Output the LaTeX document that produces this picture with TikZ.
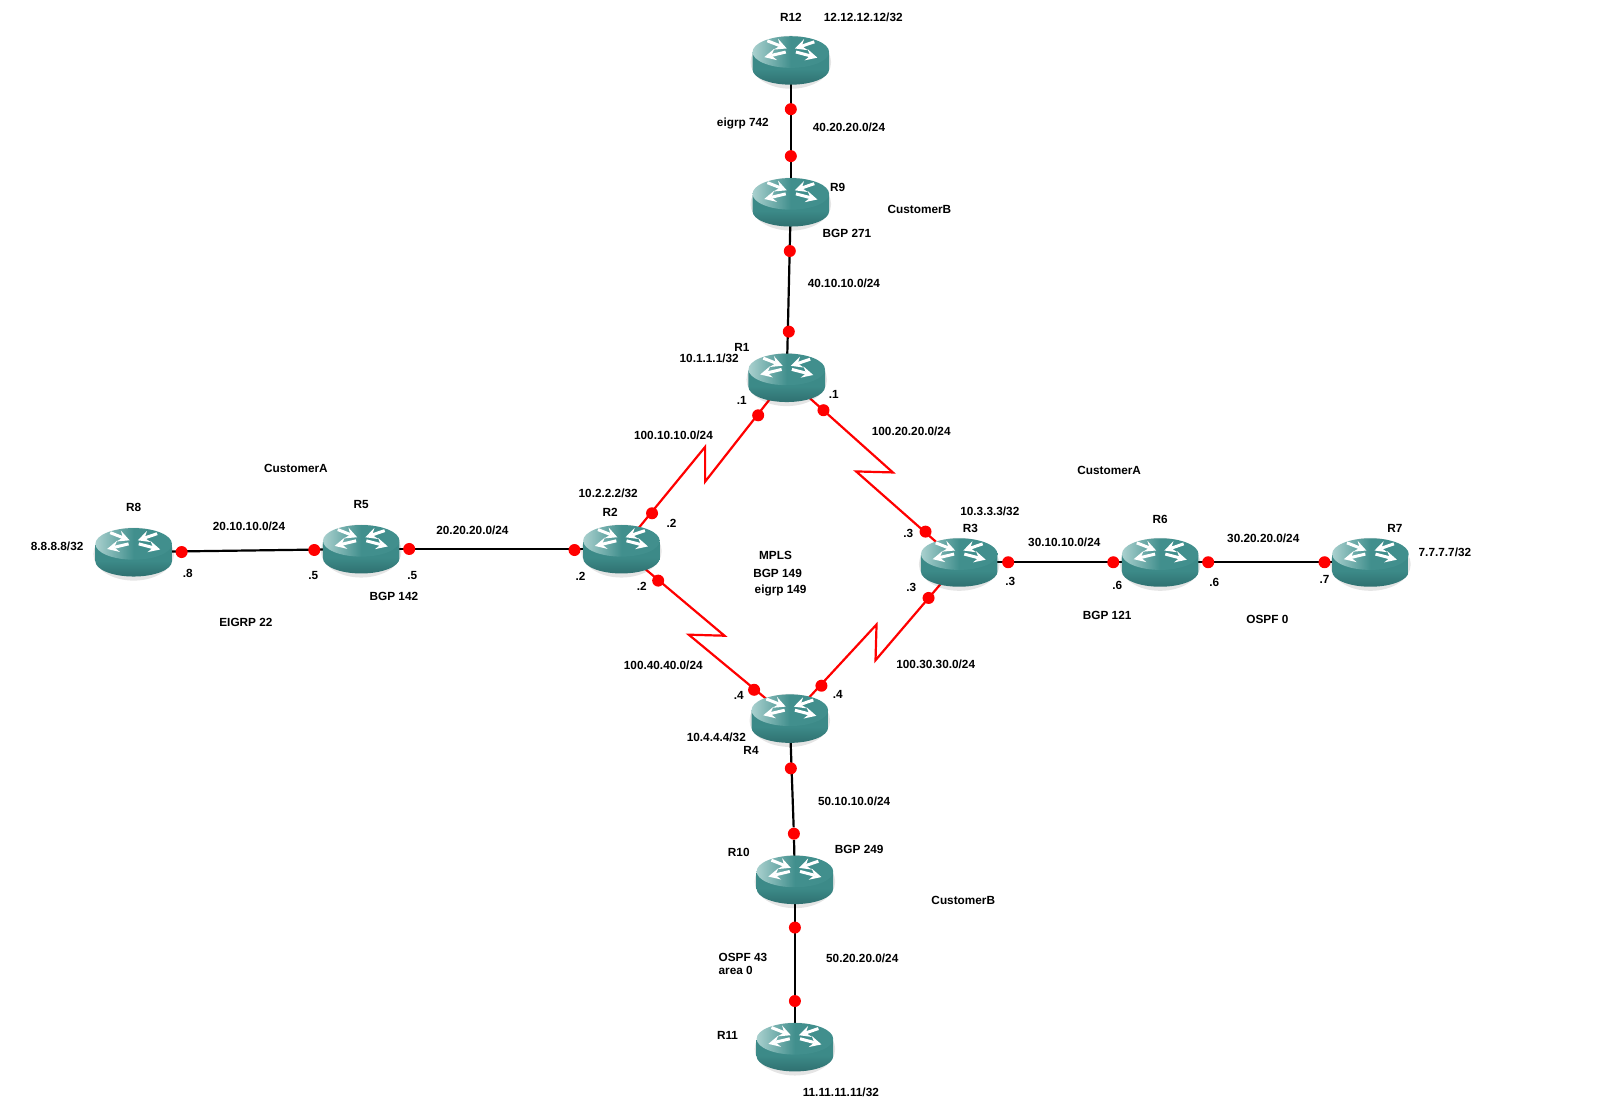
\documentclass[tikz,border=0pt]{standalone}
\usepackage{fontspec}
\setmainfont{Liberation Sans}
\usetikzlibrary{backgrounds}
\definecolor{routertop}{HTML}{418F8D}
\definecolor{routerlight}{HTML}{A9D0CE}
\definecolor{routerside}{HTML}{3C8A88}
\definecolor{routerdark}{HTML}{2F7070}

\begin{document}
\begin{tikzpicture}[x=0.5102pt,y=-0.5102pt]

\tikzstyle{router}=[rectangle,minimum width=39pt,minimum height=25pt,inner sep=0pt]
\tikzstyle{dot}=[circle,fill=red,minimum size=6pt,inner sep=0pt]
\tikzstyle{lbl}=[font=\fontsize{5.9}{7}\selectfont\bfseries,inner sep=0pt,yshift=-0.3pt]
\tikzstyle{link}=[black,line width=1.1pt]
\tikzstyle{serial}=[red,line width=1.1pt]
\tikzstyle{cross}=[white,line width=1.5pt,-stealth]

\useasboundingbox (0,0) rectangle (1568,1084);

% routers
\foreach \name/\x/\y in {r12/775/59,r9/775/198,r1/771/370,r2/609/538,r3/940/551,r4/774/704,
  r5/354/538,r6/1137/551,r7/1343/551,r8/131/541,r10/779/862,r11/779/1026}
{
  \begin{scope}[shift={(\x,\y)}]
    \fill[black,opacity=0.10] (0,2) ellipse [x radius=39.5,y radius=26];
    \path[top color=routerside,bottom color=routerdark,middle color=routerside] (-37.5,-7) -- (-37.5,9) arc[start angle=180,end angle=0,x radius=37.5,y radius=15] -- (37.5,-7) -- cycle;
    \path[left color=routerlight,right color=routertop,middle color=routertop] (0,-8) ellipse [x radius=37.5,y radius=15.5];
    \draw[cross] (-23,-19) -- (-4,-11.5);
    \draw[cross] (23,-18) -- (4,-11.5);
    \draw[cross] (-5,-8) -- (-26,-3);
    \draw[cross] (5,-8) -- (26,-2.5);
  \end{scope}
  \node[router] (\name) at (\x,\y) {};
}

% dots on the links
\foreach \name/\x/\y in {d1/775/107,d2/775/153,d3/774/246,d4/773/325,d5/743/407,d6/639/503,
  d7/807/402,d8/907/521,d9/645/569,d10/739/676,d11/910/586,d12/805/672,d13/178/541,d14/308/539,
  d15/401/538,d16/563/539,d17/988/551,d18/1091/551,d19/1184/551,d20/1298/551,d21/775/753,
  d22/778/817,d23/779/909,d24/779/981}
  \node[dot] (\name) at (\x,\y) {};

\coordinate (z1) at (691,472);
\coordinate (z2) at (691,438);
\coordinate (z3) at (875,463);
\coordinate (z4) at (839,462);
\coordinate (z5) at (710,623);
\coordinate (z6) at (675,622);
\coordinate (z7) at (858,647);
\coordinate (z8) at (859,612);

\begin{scope}[on background layer]
\draw[link] (r12.center) -- (r9.center);
\draw[link] (r9.center) -- (r1.center);
\draw[link] (r8.center) -- (r5.center);
\draw[link] (r5.center) -- (r2.center);
\draw[link] (r3.center) -- (r6.center);
\draw[link] (r6.center) -- (r7.center);
\draw[link] (r4.center) -- (d22) -- (r10.center);
\draw[link] (r10.center) -- (r11.center);
\draw[serial] (r1.center) -- (z1) -- (z2) -- (r2.center);
\draw[serial] (r1.center) -- (z3) -- (z4) -- (r3.center);
\draw[serial] (r2.center) -- (z5) -- (z6) -- (r4.center);
\draw[serial] (r3.center) -- (z7) -- (z8) -- (r4.center);
\end{scope}

% top branch
\node[lbl] (nr12) at (775,16) {R12};
\node[lbl] (ip12) at (846,16) {12.12.12.12/32};
\node[lbl] (eigrp742) at (728,120) {eigrp 742};
\node[lbl] (net4020) at (832,124) {40.20.20.0/24};
\node[lbl] (nr9) at (821,183) {R9};
\node[lbl] (custb1) at (901,205) {CustomerB};
\node[lbl] (bgp271) at (830,228) {BGP 271};
\node[lbl] (net4010) at (827,277) {40.10.10.0/24};

% core
\node[lbl] (nr1) at (727,340) {R1};
\node[lbl] (ip1) at (695,351) {10.1.1.1/32};
\node[lbl] (h1a) at (727,392) {.1};
\node[lbl] (h1b) at (817,386) {.1};
\node[lbl] (net10010) at (660,426) {100.10.10.0/24};
\node[lbl] (net10020) at (893,422) {100.20.20.0/24};
\node[lbl] (ip2) at (596,483) {10.2.2.2/32};
\node[lbl] (nr2) at (598,502) {R2};
\node[lbl] (h2a) at (658,512) {.2};
\node[lbl] (h2b) at (569,564) {.2};
\node[lbl] (h2c) at (629,574) {.2};
\node[lbl] (mpls) at (760,544) {MPLS};
\node[lbl] (bgp149) at (762,561) {BGP 149};
\node[lbl] (eigrp149) at (765,578) {eigrp 149};
\node[lbl] (ip3) at (970,501) {10.3.3.3/32};
\node[lbl] (nr3) at (951,517) {R3};
\node[lbl] (h3a) at (890,522) {.3};
\node[lbl] (h3b) at (990,569) {.3};
\node[lbl] (h3c) at (893,575) {.3};
\node[lbl] (net10040) at (650,651) {100.40.40.0/24};
\node[lbl] (net10030) at (917,650) {100.30.30.0/24};
\node[lbl] (h4a) at (724,681) {.4};
\node[lbl] (h4b) at (821,680) {.4};
\node[lbl] (ip4) at (702,722) {10.4.4.4/32};
\node[lbl] (nr4) at (736,735) {R4};

% left branch
\node[lbl] (custa1) at (290,458) {CustomerA};
\node[lbl] (nr8) at (131,497) {R8};
\node[lbl] (nr5) at (354,494) {R5};
\node[lbl] (net2010) at (244,515) {20.10.10.0/24};
\node[lbl] (net2020) at (463,519) {20.20.20.0/24};
\node[lbl] (ip8) at (56,535) {8.8.8.8/32};
\node[lbl] (h8) at (184,561) {.8};
\node[lbl] (h5a) at (307,563) {.5};
\node[lbl] (h5b) at (404,563) {.5};
\node[lbl] (bgp142) at (386,584) {BGP 142};
\node[lbl] (eigrp22) at (241,609) {EIGRP 22};

% right branch
\node[lbl] (custa2) at (1087,460) {CustomerA};
\node[lbl] (nr6) at (1137,508) {R6};
\node[lbl] (nr7) at (1367,517) {R7};
\node[lbl] (net3010) at (1043,531) {30.10.10.0/24};
\node[lbl] (net3020) at (1238,527) {30.20.20.0/24};
\node[lbl] (ip7) at (1416,541) {7.7.7.7/32};
\node[lbl] (h6a) at (1095,573) {.6};
\node[lbl] (h6b) at (1190,570) {.6};
\node[lbl] (h7) at (1298,567) {.7};
\node[lbl] (bgp121) at (1085,603) {BGP 121};
\node[lbl] (ospf0) at (1242,606) {OSPF 0};

% bottom branch
\node[lbl] (net5010) at (837,785) {50.10.10.0/24};
\node[lbl] (bgp249) at (842,832) {BGP 249};
\node[lbl] (nr10) at (724,835) {R10};
\node[lbl] (custb2) at (944,882) {CustomerB};
\node[lbl] (ospf43) at (728,938) {OSPF 43};
\node[lbl] (area0) at (721,950) {area 0};
\node[lbl] (net5020) at (845,939) {50.20.20.0/24};
\node[lbl] (nr11) at (713,1014) {R11};
\node[lbl] (ip11) at (824,1070) {11.11.11.11/32};

\end{tikzpicture}
\end{document}
